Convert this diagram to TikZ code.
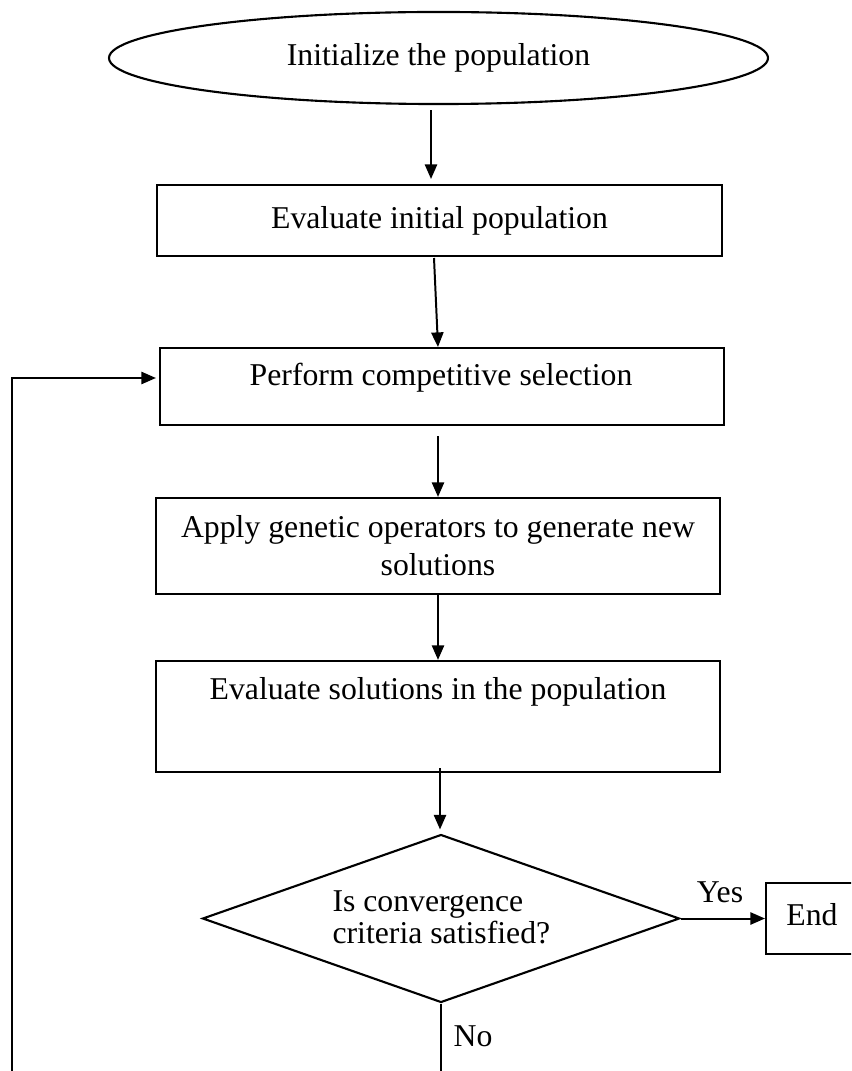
\documentclass[tikz,border=0pt]{standalone}
\usepackage{fontspec}
\setmainfont{Liberation Serif}
\usetikzlibrary{shapes.geometric,arrows.meta}

\tikzset{
  basefont/.style={font=\fontsize{12pt}{14.4pt}\selectfont},
  stepbox/.style={draw, line width=0.8pt, rectangle, inner sep=0pt, basefont, align=center},
  startnode/.style={draw, line width=0.8pt, ellipse, inner sep=0pt, basefont},
  decision/.style={draw, line width=0.8pt, diamond, inner sep=0pt, aspect=2.8},
  label text/.style={inner sep=0pt, basefont},
  arr/.style={line width=0.75pt, -{Triangle[length=5.5pt,width=4.6pt]}},
  plainline/.style={line width=0.75pt},
}

\begin{document}
% one unit = one pixel of the 851 x 1071 sheet, y grows downward
\begin{tikzpicture}[x=0.378pt, y=-0.378pt]
  \useasboundingbox (0,0) rectangle (851,1071);
  \clip (0,0) rectangle (851,1071);

  % process blocks
  \node[startnode, minimum width=249.1pt, minimum height=34.8pt] (init) at (438.5,58) {Initialize the population};
  \node[stepbox, minimum width=213.6pt, minimum height=26.8pt] (evalinit) at (439.5,220.5) {Evaluate initial population};
  \node[stepbox, minimum width=213.2pt, minimum height=29.1pt] (select) at (442,386.5) {};
  \node[label text] (selecttxt) at (441,378) {Perform competitive selection};
  \node[stepbox, minimum width=213.2pt, minimum height=36.3pt] (genop) at (438,546)
    {Apply genetic operators to generate new\\solutions};
  \node[stepbox, minimum width=213.2pt, minimum height=42.0pt] (evalsol) at (438,716.5) {};
  \node[label text] (evalsoltxt) at (438,692) {Evaluate solutions in the population};

  % convergence test
  \node[decision, minimum width=180.3pt, minimum height=63.5pt] (conv) at (441,918.5) {};
  \node[inner sep=0pt, align=left, anchor=west, font=\fontsize{12pt}{10.6pt}\selectfont] (convtxt) at (332,917.5)
    {Is convergence\\criteria satisfied?};

  % terminal block, running past the right edge of the sheet
  \node[stepbox, minimum width=39.3pt, minimum height=26.8pt] (finish) at (818,918.5) {};
  \node[label text] (finishtxt) at (812,915) {End};

  % free ends of the lines that leave the sheet at the bottom
  \coordinate (noend) at (441,1090);
  \coordinate (loopend) at (12,1090);

  % main flow
  \draw[arr] ([shift={(-7.5,5)}]init.south) -- ([shift={(-8.5,-5)}]evalinit.north);
  \draw[arr] ([shift={(-5.5,1)}]evalinit.south) -- ([shift={(-4,0)}]select.north);
  \draw[arr] ([shift={(-4,10)}]select.south) -- (genop.north);
  \draw[arr] (genop.south) -- (evalsol.north);
  \draw[arr] ([shift={(2,-5)}]evalsol.south) -- ([shift={(-1,-4)}]conv.north);

  % decision outcomes
  \draw[arr] (conv.east) -- (finish.west);
  \node[label text] (yes) at (720,892) {Yes};
  \draw[plainline] (conv.south) -- (noend);
  \node[label text] (no) at (473,1036) {No};

  % feedback loop into the selection step
  \draw[arr] (loopend) |- ([shift={(-3,-8.5)}]select.west);
\end{tikzpicture}
\end{document}
